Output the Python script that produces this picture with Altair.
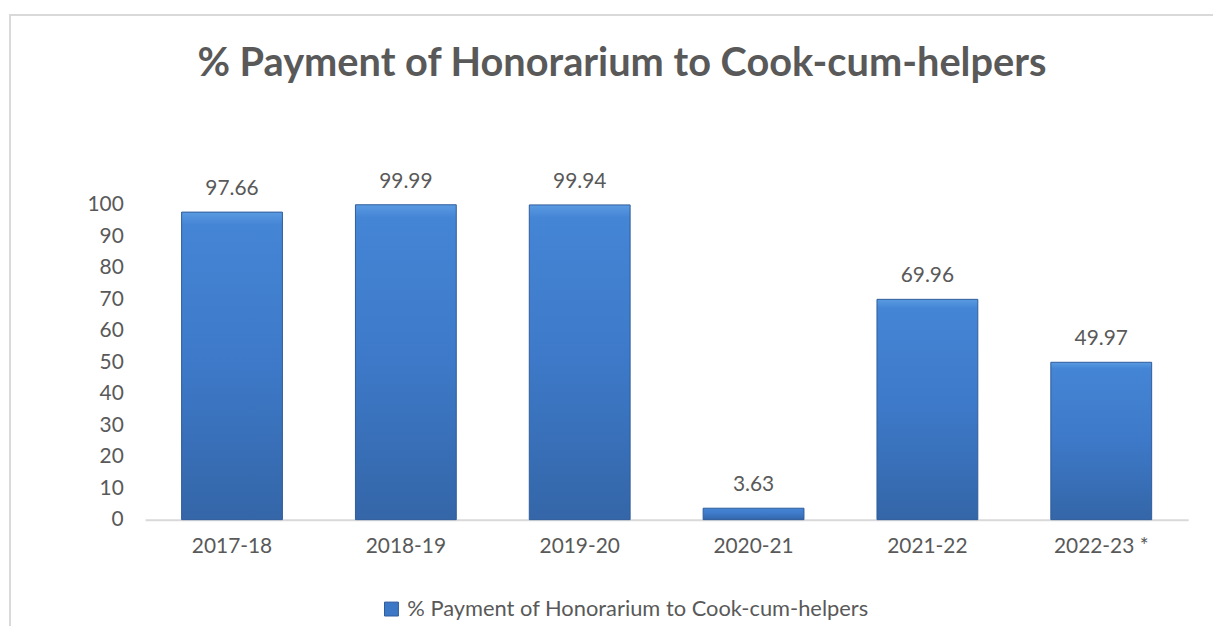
import altair as alt
import pandas as pd

years = ["2017-18", "2018-19", "2019-20", "2020-21", "2021-22", "2022-23 *"]
values = [97.66, 99.99, 99.94, 3.63, 69.96, 49.97]
series_name = "% Payment of Honorarium to Cook-cum-helpers"
y_ticks = [0, 10, 20, 30, 40, 50, 60, 70, 80, 90, 100]

df = pd.DataFrame({"year": years, "value": values, "series": [series_name] * len(years)})

FONT = "Lato"
TXT = "#595959"

grad = alt.Gradient(
    gradient="linear", x1=0, x2=0, y1=0, y2=1,
    stops=[
        alt.GradientStop(color="#5A9BE2", offset=0),
        alt.GradientStop(color="#4585D5", offset=0.04),
        alt.GradientStop(color="#3D79C8", offset=0.5),
        alt.GradientStop(color="#3466A8", offset=1),
    ],
)

x_enc = alt.X(
    "year:N", sort=years, title=None,
    scale=alt.Scale(paddingInner=0.42, paddingOuter=0.21),
    axis=alt.Axis(labelAngle=0, labelFont=FONT, labelFontSize=21, labelColor=TXT,
                  labelPadding=16, ticks=False, domainColor="#D9D9D9", domainWidth=2,
                  grid=False),
)
y_enc = alt.Y(
    "value:Q", title=None,
    scale=alt.Scale(domain=[0, 100], nice=False),
    axis=alt.Axis(values=y_ticks, labelFont=FONT, labelFontSize=21, labelColor=TXT,
                  labelPadding=22, ticks=False, domain=False, grid=False,
                  labelOverlap=False, tickCount=11),
)

base = alt.Chart(df)

bars = base.mark_bar(fill=grad, stroke="#2E5C9A", strokeWidth=1).encode(x=x_enc, y=y_enc)

legend_layer = base.mark_bar(opacity=0).encode(
    x=x_enc,
    y=y_enc,
    color=alt.Color(
        "series:N",
        scale=alt.Scale(range=["#3C78C6"]),
        legend=alt.Legend(
            title=None, orient="none", legendX=237, legendY=396,
            symbolType="square", symbolSize=196, symbolOpacity=1,
            symbolStrokeColor="#2E5C9A", symbolStrokeWidth=1,
            labelFont=FONT, labelFontSize=22, labelColor=TXT, labelOffset=5,
            labelLimit=0,
        ),
    ),
)

labels = base.mark_text(font=FONT, fontSize=21, color=TXT, baseline="alphabetic", dy=-17).encode(
    x=x_enc,
    y=y_enc,
    text=alt.Text("value:Q", format=".2f"),
)

border = alt.Chart(alt.Data(values=[{}])).mark_rect(
    filled=False, stroke="#D9D9D9", strokeWidth=2
).encode(
    x=alt.value(-136), x2=alt.value(1230), y=alt.value(-191), y2=alt.value(700)
)

chart = alt.layer(border, bars, legend_layer, labels).properties(
    width=1050,
    height=317,
    title=alt.TitleParams(
        series_name, font=FONT, fontSize=40, fontWeight="bold", color=TXT,
        anchor="middle", frame="group", dx=-45, offset=-70,
    ),
    autosize=alt.AutoSizeParams(type="none"),
    padding={"left": 138, "top": 196, "right": 25, "bottom": 105},
).configure_view(stroke=None)

chart.save("out.html", embed_options={"renderer": "svg", "actions": False})
